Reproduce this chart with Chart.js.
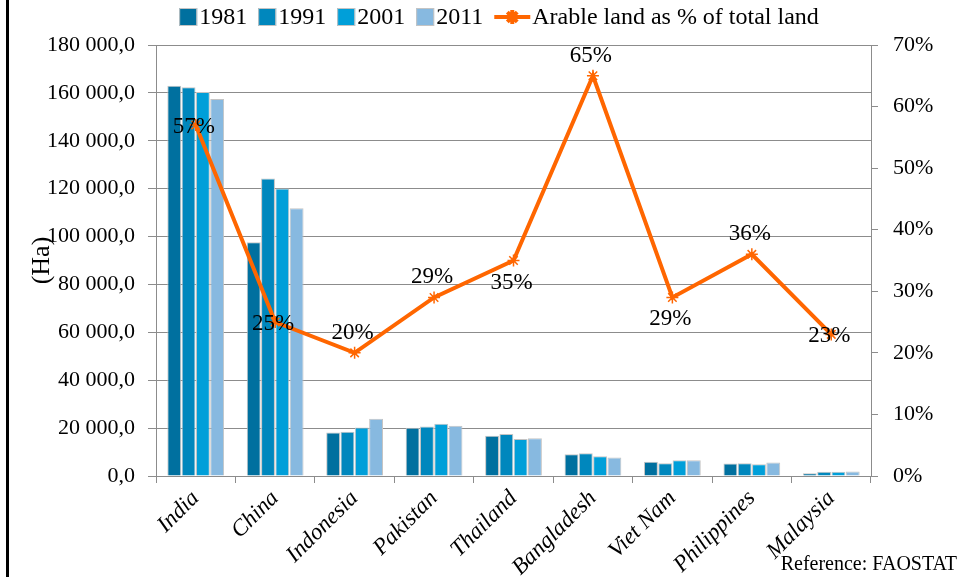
<!DOCTYPE html>
<html>
<head>
<meta charset="utf-8">
<title>Arable land</title>
<script src="https://cdn.jsdelivr.net/npm/chart.js@4.4.1/dist/chart.umd.min.js"></script>
<style>
  html, body { margin: 0; padding: 0; background: #fff; }
  #wrap { width: 962px; height: 577px; }
</style>
</head>
<body>
<div id="wrap"><canvas id="landChart" width="962" height="577"></canvas></div>
<script>
// data (hectares, thousands shown as full numbers)
var countries = ["India", "China", "Indonesia", "Pakistan", "Thailand", "Bangladesh", "Viet Nam", "Philippines", "Malaysia"];
var years = ["1981", "1991", "2001", "2011"];
var area1981 = [163000, 97600, 18200, 20200, 16800, 9100, 6000, 5200, 1100];
var area1991 = [162400, 124200, 18500, 20700, 17500, 9500, 5300, 5300, 1800];
var area2001 = [160400, 120100, 20300, 21800, 15500, 8200, 6600, 4900, 1800];
var area2011 = [157500, 111800, 23900, 21000, 15800, 7700, 6600, 5600, 1900];
var arablePct = [57, 25, 20, 29, 35, 65, 29, 36, 23];
var lineLabel = "Arable land as % of total land";

// styling
var barColors = ["#00709f", "#0087bd", "#009fd9", "#87b9e0"];
var orange = "#ff6600";
var serif = "'Liberation Serif', 'DejaVu Serif', serif";
var labelPos = ["center", "center", "above", "above", "below", "above", "below", "above", "center"];

function fmtHa(v) {
  return String(v).replace(/\B(?=(\d{3})+(?!\d))/g, " ") + ",0";
}

var barSeries = [area1981, area1991, area2001, area2011];
var datasets = barSeries.map(function (arr, i) {
  return {
    type: "bar",
    label: years[i],
    data: arr,
    backgroundColor: barColors[i],
    borderColor: "#c4c4c4",
    borderWidth: 1,
    yAxisID: "y",
    order: 1,
    barPercentage: 0.97,
    categoryPercentage: 0.72
  };
});
datasets.push({
  type: "line",
  label: lineLabel,
  data: arablePct,
  borderColor: orange,
  backgroundColor: orange,
  borderWidth: 4,
  tension: 0,
  pointStyle: "star",
  pointRadius: 6,
  pointBorderColor: orange,
  pointBorderWidth: 1.5,
  yAxisID: "y2",
  order: 0
});

// left black frame line
var framePlugin = {
  id: "frame",
  beforeDraw: function (chart) {
    var ctx = chart.ctx;
    ctx.save();
    ctx.fillStyle = "#fff";
    ctx.fillRect(0, 0, chart.width, chart.height);
    ctx.fillStyle = "#000";
    ctx.fillRect(6, 0, 3, chart.height);
    ctx.restore();
  }
};

// legend drawn at the top
var topLegend = {
  id: "topLegend",
  afterDraw: function (chart) {
    var ctx = chart.ctx;
    ctx.save();
    ctx.font = "24px " + serif;
    ctx.textBaseline = "middle";
    var box = 18, gap = 2, spacing = 11, lineW = 36;
    var items = [];
    var total = 0;
    chart.data.datasets.forEach(function (ds) {
      var w = (ds.type === "line" ? lineW : box) + gap + ctx.measureText(ds.label).width;
      items.push({ ds: ds, w: w });
      total += w;
    });
    total += spacing * (items.length - 1);
    var x = 499 - total / 2;
    var y = 17;
    items.forEach(function (it) {
      var ds = it.ds;
      if (ds.type === "line") {
        ctx.strokeStyle = ds.borderColor;
        ctx.lineWidth = 4;
        ctx.beginPath();
        ctx.moveTo(x, y);
        ctx.lineTo(x + lineW, y);
        ctx.stroke();
        Chart.helpers.drawPoint(ctx, { pointStyle: "star", radius: 7, borderWidth: 1.5 }, x + lineW / 2, y);
        ctx.fillStyle = "#000";
        ctx.fillText(ds.label, x + lineW + gap, y + 1);
      } else {
        ctx.fillStyle = ds.backgroundColor;
        ctx.fillRect(x, y - box / 2, box, box);
        ctx.strokeStyle = "#c4c4c4";
        ctx.lineWidth = 1;
        ctx.strokeRect(x + 0.5, y - box / 2 + 0.5, box - 1, box - 1);
        ctx.fillStyle = "#000";
        ctx.fillText(ds.label, x + box + gap, y + 1);
      }
      x += it.w + spacing;
    });
    ctx.restore();
  }
};

// percentage labels next to the line points + source note
var pctLabels = {
  id: "pctLabels",
  afterDatasetsDraw: function (chart) {
    var ctx = chart.ctx;
    var idx = chart.data.datasets.length - 1;
    var meta = chart.getDatasetMeta(idx);
    ctx.save();
    ctx.font = "23px " + serif;
    ctx.fillStyle = "#000";
    ctx.textAlign = "center";
    ctx.textBaseline = "middle";
    meta.data.forEach(function (pt, i) {
      var dy = 0;
      if (labelPos[i] === "above") dy = -22;
      if (labelPos[i] === "below") dy = 20;
      ctx.fillText(chart.data.datasets[idx].data[i] + "%", pt.x - 2, pt.y + dy + 2);
    });
    ctx.font = "20px " + serif;
    ctx.textAlign = "right";
    ctx.textBaseline = "alphabetic";
    ctx.fillText("Reference: FAOSTAT", 957, 570);
    ctx.restore();
  }
};

var ctx = document.getElementById("landChart");
var landChart = new Chart(ctx, {
  data: {
    labels: countries,
    datasets: datasets
  },
  options: {
    responsive: false,
    animation: false,
    layout: { padding: { top: 45, left: 0, right: 0, bottom: 0 } },
    plugins: {
      legend: { display: false },
      tooltip: { enabled: false }
    },
    scales: {
      x: {
        afterFit: function (scale) { scale.height = 101; },
        grid: { offset: true, drawOnChartArea: false, drawTicks: true, tickLength: 7, color: "#8c8c8c" },
        border: { color: "#8c8c8c", width: 1 },
        ticks: {
          minRotation: 45,
          maxRotation: 45,
          padding: 2,
          color: "#000",
          font: { family: serif, size: 23, style: "italic" }
        }
      },
      y: {
        position: "left",
        min: 0,
        max: 180000,
        afterFit: function (scale) { scale.width = 156; },
        grid: { color: "#8c8c8c", tickLength: 8, drawTicks: true },
        border: { color: "#8c8c8c" },
        ticks: {
          stepSize: 20000,
          padding: 13,
          color: "#000",
          font: { family: serif, size: 22 },
          callback: function (v) { return fmtHa(v); }
        },
        title: {
          display: true,
          text: "(Ha)",
          color: "#000",
          font: { family: serif, size: 26 },
          padding: { top: 27, bottom: 0 }
        }
      },
      y2: {
        position: "right",
        min: 0,
        max: 70,
        afterFit: function (scale) { scale.width = 91; },
        grid: { drawOnChartArea: false, drawTicks: true, tickLength: 7, color: "#8c8c8c" },
        border: { color: "#8c8c8c" },
        ticks: {
          stepSize: 10,
          padding: 15,
          color: "#000",
          font: { family: serif, size: 22 },
          callback: function (v) { return v + "%"; }
        }
      }
    }
  },
  plugins: [framePlugin, topLegend, pctLabels]
});
</script>
</body>
</html>
